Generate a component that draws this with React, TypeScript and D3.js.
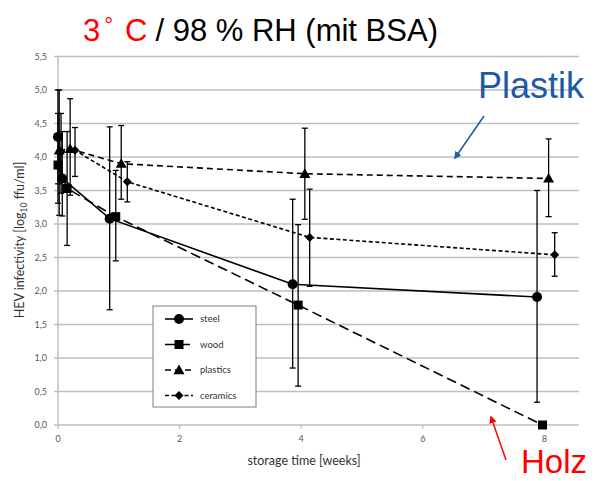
import React from "react";
import * as d3 from "d3";

// HEV infectivity on different surfaces over storage time (3 °C / 98 % RH, with BSA)
type Pt = { t: number; v: number; lo?: number; hi?: number };

const steel: Pt[] = [
  { t: 0.0, v: 4.3, lo: 3.6, hi: 5.0 },
  { t: 0.07, v: 3.68, lo: 3.12, hi: 4.38 },
  { t: 0.85, v: 3.08, lo: 1.72, hi: 4.45 },
  { t: 3.86, v: 2.1, lo: 0.85, hi: 3.37 },
  { t: 7.88, v: 1.91, lo: 0.34, hi: 3.5 },
];
const wood: Pt[] = [
  { t: 0.0, v: 3.88, lo: 3.31, hi: 4.65 },
  { t: 0.15, v: 3.53, lo: 2.68, hi: 4.38 },
  { t: 0.95, v: 3.11, lo: 2.45, hi: 3.8 },
  { t: 3.95, v: 1.79, lo: 0.58, hi: 2.99 },
  { t: 7.97, v: 0.0 },
];
const plastics: Pt[] = [
  { t: 0.02, v: 4.1, lo: 3.13, hi: 5.0 },
  { t: 0.2, v: 4.12, lo: 3.43, hi: 4.87 },
  { t: 1.04, v: 3.9, lo: 3.37, hi: 4.47 },
  { t: 4.06, v: 3.75, lo: 3.07, hi: 4.43 },
  { t: 8.07, v: 3.68, lo: 3.11, hi: 4.27 },
];
const ceramics: Pt[] = [
  { t: 0.05, v: 4.08, lo: 3.46, hi: 4.65 },
  { t: 0.28, v: 4.1, lo: 3.71, hi: 4.44 },
  { t: 1.14, v: 3.63, lo: 3.33, hi: 3.93 },
  { t: 4.14, v: 2.8, lo: 2.07, hi: 3.52 },
  { t: 8.17, v: 2.54, lo: 2.22, hi: 2.87 },
];

const yTicks = [0, 0.5, 1, 1.5, 2, 2.5, 3, 3.5, 4, 4.5, 5, 5.5];
const xTicks = [0, 2, 4, 6, 8];

const seriesNames = ["steel", "wood", "plastics", "ceramics"];

const W = 597;
const H = 481;

const x = d3.scaleLinear().domain([0, 8.57]).range([58, 579]);
const y = d3.scaleLinear().domain([0, 5.5]).range([425, 56.5]);

const gridColor = "#bfbfbf";
const tickFont = "Lato, 'Open Sans', sans-serif";
const textGray = "#595959";
const arial = "'Liberation Sans', Arial, sans-serif";

type Style = { dash: string; marker: "circle" | "square" | "triangle" | "diamond" };
const styles: Record<string, Style> = {
  steel: { dash: "none", marker: "circle" },
  wood: { dash: "10,5", marker: "square" },
  plastics: { dash: "6,4", marker: "triangle" },
  ceramics: { dash: "4,2.5", marker: "diamond" },
};

function Marker({ kind, cx, cy }: { kind: Style["marker"]; cx: number; cy: number }) {
  if (kind === "circle") return <circle cx={cx} cy={cy} r={5} fill="#000" />;
  if (kind === "square") return <rect x={cx - 4.5} y={cy - 4.5} width={9} height={9} fill="#000" />;
  if (kind === "triangle") {
    const s = 5.5;
    return <path d={`M${cx},${cy - s}L${cx + s},${cy + s * 0.75}L${cx - s},${cy + s * 0.75}Z`} fill="#000" />;
  }
  const s = 4.5;
  return <path d={`M${cx},${cy - s}L${cx + s},${cy}L${cx},${cy + s}L${cx - s},${cy}Z`} fill="#000" />;
}

function Series({ name, data }: { name: string; data: Pt[] }) {
  const st = styles[name];
  const line = d3
    .line<Pt>()
    .x((d) => x(d.t))
    .y((d) => y(d.v));
  return (
    <g>
      <path d={line(data) ?? ""} fill="none" stroke="#000" strokeWidth={1.6} strokeDasharray={st.dash} />
      {data.map((d, i) =>
        d.lo !== undefined && d.hi !== undefined ? (
          <g key={"e" + i} stroke="#000" strokeWidth={1.3}>
            <line x1={x(d.t)} x2={x(d.t)} y1={y(d.lo)} y2={y(d.hi)} />
            <line x1={x(d.t) - 3} x2={x(d.t) + 3} y1={y(d.lo)} y2={y(d.lo)} />
            <line x1={x(d.t) - 3} x2={x(d.t) + 3} y1={y(d.hi)} y2={y(d.hi)} />
          </g>
        ) : null
      )}
      {data.map((d, i) => (
        <Marker key={"m" + i} kind={st.marker} cx={x(d.t)} cy={y(d.v)} />
      ))}
    </g>
  );
}

export default function App() {
  const seriesData: Record<string, Pt[]> = { steel, wood, plastics, ceramics };
  const legX = 153;
  const legY = 306;
  return (
    <svg width={W} height={H} style={{ position: "absolute", left: 0, top: 0, background: "#fff" }}>
      {/* title */}
      <text x={83} y={41} fontFamily={arial} fontSize={31}>
        <tspan fill="#ff0000">3</tspan>
        <tspan fill="#ff0000" fontSize={22} dy={-8} dx={4}>°</tspan>
        <tspan fill="#ff0000" dy={8} dx={12}>C</tspan>
        <tspan fill="#000" dx={8}>/ 98 % RH (mit BSA)</tspan>
      </text>

      {/* horizontal gridlines */}
      {yTicks.map((t) => (
        <line key={"g" + t} x1={x(0) - 4} x2={579} y1={y(t)} y2={y(t)} stroke={gridColor} strokeWidth={1.5} />
      ))}
      {/* y axis line */}
      <line x1={x(0)} x2={x(0)} y1={y(5.5)} y2={y(0)} stroke={gridColor} strokeWidth={1.5} />
      {/* x tick marks */}
      {xTicks.map((t) => (
        <line key={"xt" + t} x1={x(t)} x2={x(t)} y1={y(0)} y2={y(0) + 4} stroke={gridColor} strokeWidth={1.3} />
      ))}

      {/* y tick labels */}
      {yTicks.map((t) => (
        <text
          key={"yl" + t}
          x={47}
          y={y(t) + 3}
          textAnchor="end"
          fontFamily={tickFont}
          fontSize={9}
          fill={textGray}
        >
          {d3.format(".1f")(t).replace(".", ",")}
        </text>
      ))}
      {/* x tick labels */}
      {xTicks.map((t) => (
        <text key={"xl" + t} x={x(t)} y={442} textAnchor="middle" fontFamily={tickFont} fontSize={9} fill={textGray}>
          {t}
        </text>
      ))}

      {/* axis titles */}
      <text x={304} y={465} textAnchor="middle" fontFamily={tickFont} fontSize={12.5} fill="#333">
        storage time [weeks]
      </text>
      <text
        transform={`translate(24,${240}) rotate(-90)`}
        textAnchor="middle"
        fontFamily={tickFont}
        fontSize={12.5}
        fill="#333"
      >
        HEV infectivity [log
        <tspan fontSize={8.5} dy={3}>10</tspan>
        <tspan dy={-3}> ffu/ml]</tspan>
      </text>

      {/* data series */}
      {seriesNames.map((n) => (
        <Series key={n} name={n} data={seriesData[n]} />
      ))}

      {/* legend */}
      <rect x={legX} y={legY} width={103} height={101} fill="#fff" stroke="#7f7f7f" strokeWidth={1} />
      {seriesNames.map((n, i) => {
        const cy = legY + 13 + i * 25.5;
        const st = styles[n];
        return (
          <g key={"lg" + n}>
            <line x1={legX + 12} x2={legX + 40} y1={cy} y2={cy} stroke="#000" strokeWidth={1.6} strokeDasharray={st.dash} />
            <Marker kind={st.marker} cx={legX + 26} cy={cy} />
            <text x={legX + 47} y={cy + 3} fontFamily={tickFont} fontSize={9.5} fill="#333">
              {n}
            </text>
          </g>
        );
      })}

      {/* annotations */}
      <defs>
        <marker id="arrBlue" viewBox="0 0 10 10" refX={8} refY={5} markerWidth={5} markerHeight={5} orient="auto">
          <path d="M0,0L10,5L0,10Z" fill="#1b5aa7" />
        </marker>
        <marker id="arrRed" viewBox="0 0 10 10" refX={8} refY={5} markerWidth={5} markerHeight={5} orient="auto">
          <path d="M0,0L10,5L0,10Z" fill="#ff0000" />
        </marker>
      </defs>
      <text x={478} y={98} fontFamily={arial} fontSize={36} fill="#1b5aa7">
        Plastik
      </text>
      <line x1={484} y1={116} x2={455} y2={158} stroke="#1b5aa7" strokeWidth={1.5} markerEnd="url(#arrBlue)" />
      <text x={521} y={473} fontFamily={arial} fontSize={33} fill="#ff0000">
        Holz
      </text>
      <line x1={506} y1={460} x2={491} y2={417} stroke="#ff0000" strokeWidth={1.5} markerEnd="url(#arrRed)" />
    </svg>
  );
}
